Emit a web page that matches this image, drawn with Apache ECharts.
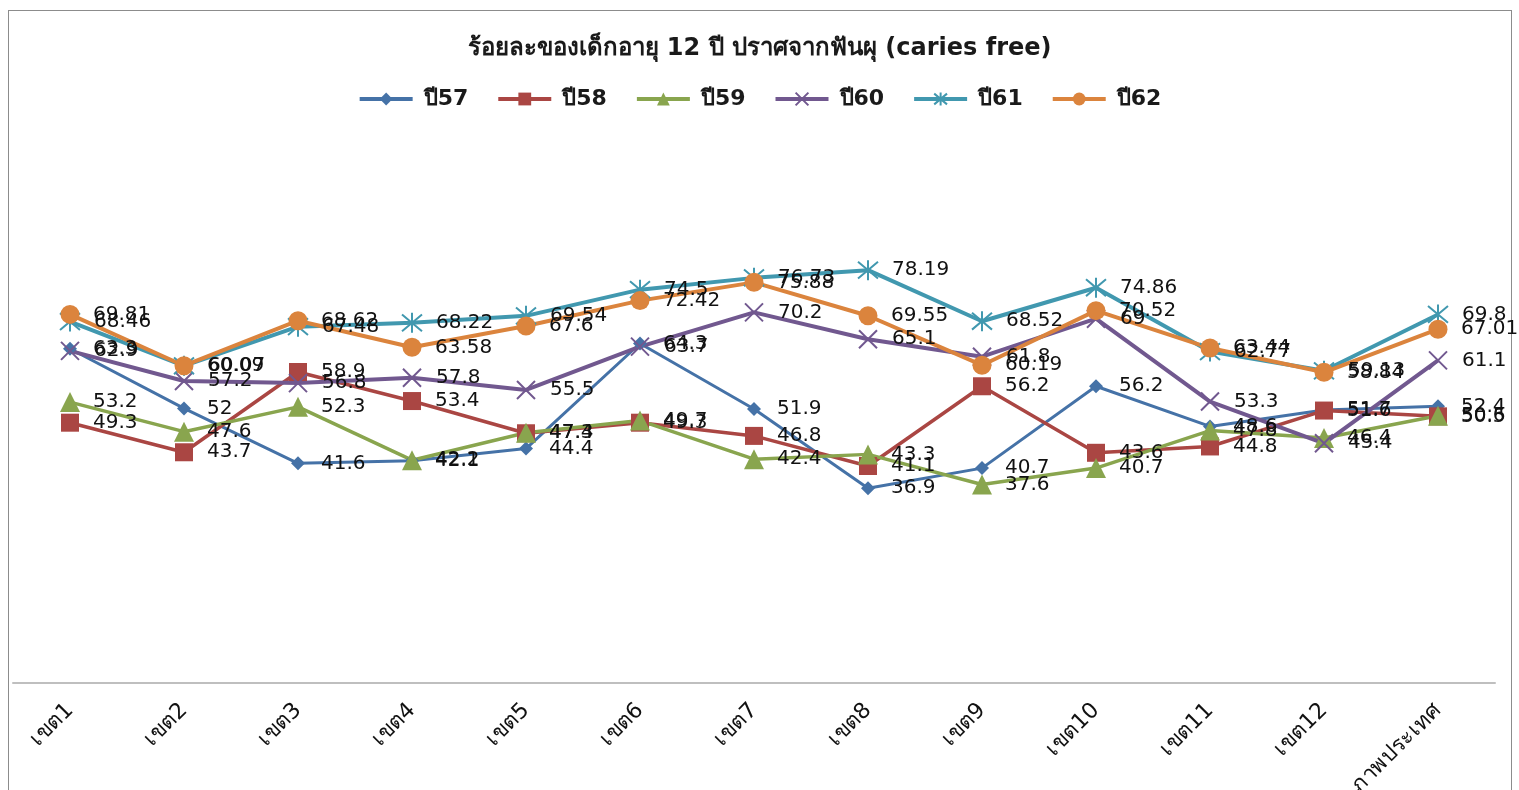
<!DOCTYPE html>
<html>
<head>
<meta charset="utf-8">
<script src="https://cdn.jsdelivr.net/npm/echarts@6/dist/echarts.min.js"></script>
<style>
  html, body { margin: 0; padding: 0; background: #fff; }
  #frame { position: absolute; left: 8px; top: 10px; width: 1504px; height: 800px; border: 1px solid #8c8c8c; box-sizing: border-box; }
  #chart { position: absolute; left: 0; top: 0; width: 1519px; height: 790px; }
</style>
</head>
<body>
<div id="frame"></div>
<div id="chart"></div>
<script>
// categories (health regions + national)
const categories = ['เขต1', 'เขต2', 'เขต3', 'เขต4', 'เขต5', 'เขต6', 'เขต7', 'เขต8', 'เขต9', 'เขต10', 'เขต11', 'เขต12', 'ภาพประเทศ'];

const y57 = [63.3, 52, 41.6, 42.1, 44.4, 64.3, 51.9, 36.9, 40.7, 56.2, 48.6, 51.7, 52.4];
const y58 = [49.3, 43.7, 58.9, 53.4, 47.3, 49.3, 46.8, 41.1, 56.2, 43.6, 44.8, 51.6, 50.5];
const y59 = [53.2, 47.6, 52.3, 42.2, 47.4, 49.7, 42.4, 43.3, 37.6, 40.7, 47.8, 46.4, 50.6];
const y60 = [62.9, 57.2, 56.8, 57.8, 55.5, 63.7, 70.2, 65.1, 61.8, 69, 53.3, 45.4, 61.1];
const y61 = [68.46, 60.07, 67.48, 68.22, 69.54, 74.5, 76.73, 78.19, 68.52, 74.86, 62.77, 59.13, 69.8];
const y62 = [69.81, 60.09, 68.62, 63.58, 67.6, 72.42, 75.88, 69.55, 60.19, 70.52, 63.44, 58.84, 67.01];

const seriesNames = ['ปี57', 'ปี58', 'ปี59', 'ปี60', 'ปี61', 'ปี62'];

const FONT = 'DejaVu Sans, Tahoma, sans-serif';
const CROSS = 'path://M0,0L10,10M10,0L0,10';
const STAR = 'path://M5,0L5,10M0.8,0.8L9.2,9.2M9.2,0.8L0.8,9.2';

function makeSeries(name, data, color, symbol, size, width, strokeOnly) {
  return {
    name, type: 'line', data,
    symbol, symbolSize: size, showAllSymbol: true,
    lineStyle: { color, width },
    itemStyle: strokeOnly
      ? { color: 'rgba(0,0,0,0)', borderColor: color, borderWidth: 2 }
      : { color, borderWidth: 0 },
    label: {
      show: true, position: 'right', distance: 23 - size / 2,
      color: '#111', fontSize: 20, fontFamily: FONT,
    },
    emphasis: { disabled: true },
    z: 2,
  };
}

const chart = echarts.init(document.getElementById('chart'), null, { renderer: 'canvas' });

chart.setOption({
  animation: false,
  title: {
    text: 'ร้อยละของเด็กอายุ 12 ปี ปราศจากฟันผุ (caries free)',
    left: 'center', top: 32,
    textStyle: { fontSize: 24, fontWeight: 'bold', color: '#1a1a1a', fontFamily: FONT },
  },
  legend: {
    top: 83, left: 'center',
    itemWidth: 53, itemHeight: 16, itemGap: 28,
    lineStyle: { width: 4 },
    textStyle: { fontSize: 22, fontWeight: 'bold', color: '#1a1a1a', fontFamily: FONT, padding: [0, 0, 0, 6] },
    data: seriesNames,
  },
  grid: { left: 13, right: 24, top: 155, bottom: 107, outerBoundsMode: 'none' },
  xAxis: {
    type: 'category', data: categories, boundaryGap: true,
    axisLine: { lineStyle: { color: '#bfbfbf', width: 2 } },
    axisTick: { show: false },
    axisLabel: { rotate: 45, margin: 24, color: '#111', fontSize: 22, fontFamily: FONT, interval: 0 },
  },
  yAxis: {
    type: 'value', min: 0, max: 100, show: false,
    splitLine: { show: false },
  },
  series: [
    makeSeries(seriesNames[0], y57, '#4572A7', 'diamond', 14, 3, false),
    makeSeries(seriesNames[1], y58, '#AA4643', 'rect', 18, 3.5, false),
    makeSeries(seriesNames[2], y59, '#89A54E', 'triangle', 20, 3.5, false),
    makeSeries(seriesNames[3], y60, '#71588F', CROSS, 18, 4, true),
    makeSeries(seriesNames[4], y61, '#4198AF', STAR, 20, 4, true),
    makeSeries(seriesNames[5], y62, '#DB843D', 'circle', 19, 4, false),
  ],
});
</script>
</body>
</html>
